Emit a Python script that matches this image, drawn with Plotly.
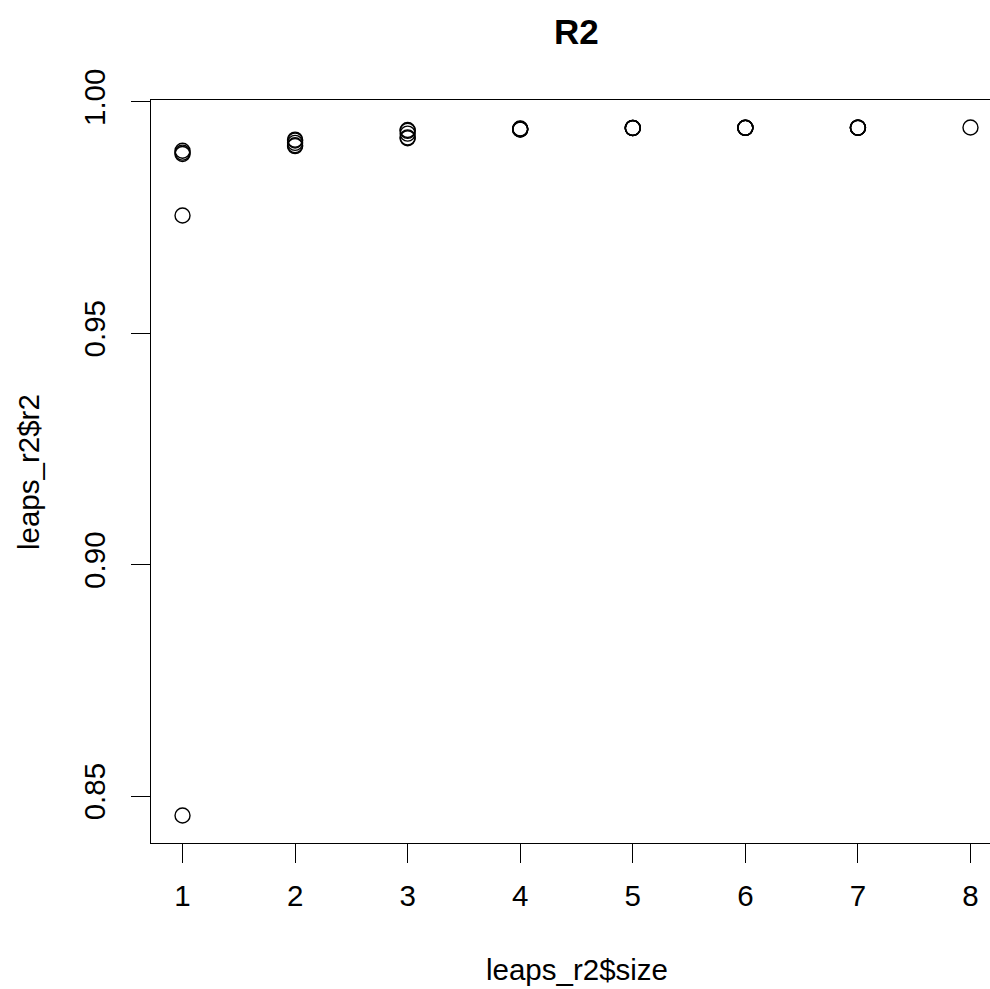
import plotly.graph_objects as go

# data (leaps best subsets, R^2 by model size)
size = [1, 1, 1, 1, 1,
        2, 2, 2, 2, 2,
        3, 3, 3, 3, 3,
        4, 4, 4, 4, 4,
        5, 5, 5, 5, 5,
        6, 6, 6, 6, 6,
        7, 7, 7, 7, 7,
        8]
r2 = [0.9894, 0.9890, 0.9887, 0.9754, 0.8458,
      0.9918, 0.9916, 0.9911, 0.9906, 0.9904,
      0.9939, 0.9937, 0.9931, 0.9923, 0.9921,
      0.9942, 0.9941, 0.9941, 0.9940, 0.9940,
      0.99435, 0.99433, 0.99432, 0.99430, 0.99428,
      0.99438, 0.99437, 0.99436, 0.99435, 0.99434,
      0.99440, 0.99439, 0.99438, 0.99437, 0.99436,
      0.99442]
x_ticks = [1, 2, 3, 4, 5, 6, 7, 8]
y_ticks = [0.85, 0.90, 0.95, 1.00]

# The original plot box runs past the right edge of the 990 px image;
# draw the full box and let the page clip it.
W, H = 1002, 989
BOX_L, BOX_T, BOX_B = 151, 100, 843
ML, MT, MB, MR = BOX_L, BOX_T, H - BOX_B, 0
plot_w = W - ML - MR
plot_h = H - MT - MB

# R-style axis limits (4% extension)
xmin, xmax = min(size), max(size)
xr = xmax - xmin
xlo, xhi = xmin - 0.04 * xr, xmax + 0.04 * xr

ymin, ymax = min(r2), max(r2)
yr = ymax - ymin
ylo, yhi = ymin - 0.04 * yr, ymax + 0.04 * yr

font = "Liberation Sans, Arial, Helvetica, sans-serif"
FS = 29.5
FT = 35


def py(page_y):
    return (BOX_B - page_y) / plot_h


def px(page_x):
    return (page_x - BOX_L) / plot_w


fig = go.Figure()
fig.add_trace(go.Scatter(
    x=size, y=r2, mode="markers",
    marker=dict(symbol="circle-open", size=15, color="black",
                line=dict(width=1.4, color="black")),
    showlegend=False, hoverinfo="x+y",
))

fig.update_layout(
    width=W, height=H,
    margin=dict(l=ML, r=MR, t=MT, b=MB, pad=0),
    plot_bgcolor="white", paper_bgcolor="white",
    font=dict(family=font, size=FS, color="black"),
    xaxis=dict(range=[xlo, xhi], tickvals=x_ticks, ticktext=[str(v) for v in x_ticks],
               showgrid=False, zeroline=False, showline=True, mirror=True,
               linecolor="black", linewidth=1.4,
               ticks="outside", ticklen=19, tickwidth=1.4, tickcolor="black",
               ticklabelstandoff=7,
               tickfont=dict(family=font, size=FS, color="black")),
    yaxis=dict(range=[ylo, yhi], tickvals=y_ticks, ticktext=[f"{v:.2f}" for v in y_ticks],
               showgrid=False, zeroline=False, showline=True, mirror=True,
               linecolor="black", linewidth=1.4,
               ticks="outside", ticklen=19, tickwidth=1.4, tickcolor="black",
               tickangle=-90, ticklabelstandoff=14,
               tickfont=dict(family=font, size=FS, color="black")),
    annotations=[
        dict(text="<b>R2</b>", xref="paper", yref="paper", x=0.5, y=py(31),
             xanchor="center", yanchor="middle", showarrow=False,
             font=dict(family=font, size=FT, color="black")),
        dict(text="leaps_r2$size", xref="paper", yref="paper", x=0.5, y=py(969),
             xanchor="center", yanchor="middle", showarrow=False,
             font=dict(family=font, size=FS, color="black")),
        dict(text="leaps_r2$r2", xref="paper", yref="paper", x=px(29), y=py(472),
             xanchor="center", yanchor="middle", showarrow=False, textangle=-90,
             font=dict(family=font, size=FS, color="black")),
    ],
)

fig.write_html(
    "out.html",
    config={"displayModeBar": False},
    post_script="document.body.style.margin='0';document.body.style.overflow='hidden';",
)
